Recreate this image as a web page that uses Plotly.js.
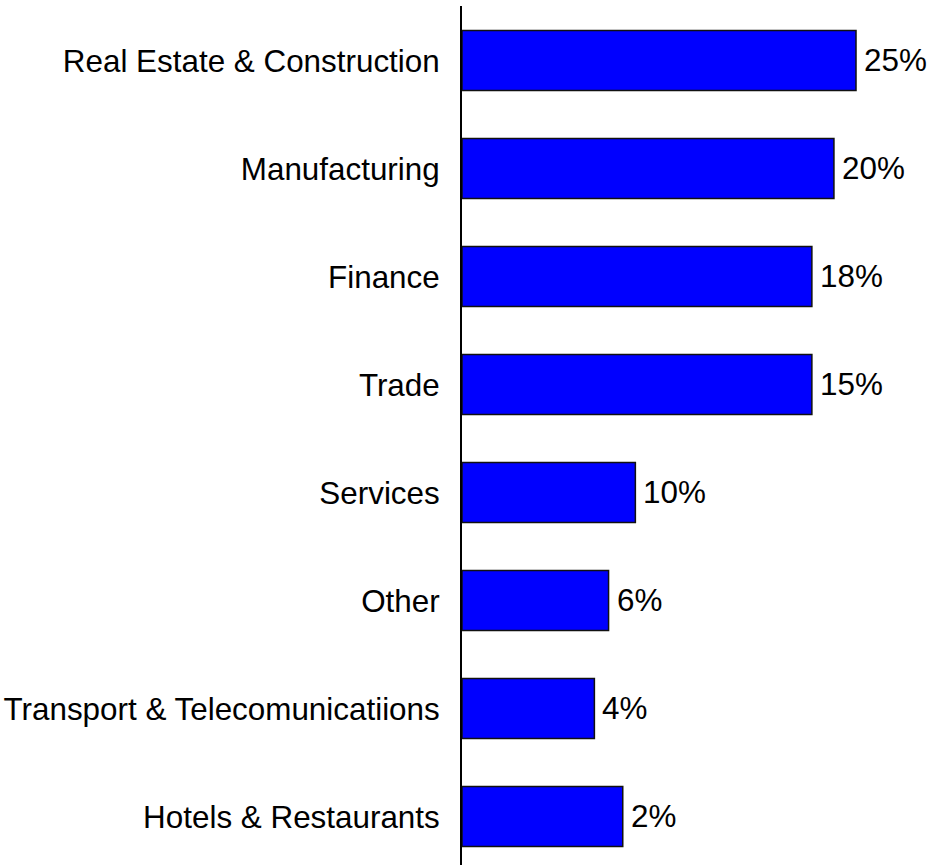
<!DOCTYPE html>
<html>
<head>
<meta charset="utf-8">
<script src="https://cdn.plot.ly/plotly-3.0.1.min.js"></script>
<style>
  html, body { margin: 0; padding: 0; background: #ffffff; }
  #chart { width: 946px; height: 865px; }
</style>
</head>
<body>
<div id="chart"></div>
<script>
// Categories, top to bottom
var categories = [
  "Real Estate & Construction",
  "Manufacturing",
  "Finance",
  "Trade",
  "Services",
  "Other",
  "Transport & Telecomunicatiions",
  "Hotels & Restaurants"
];
// Bar lengths as drawn in the picture (estimated, % units)
var barValues = [25.0, 23.6, 22.2, 22.2, 11.0, 9.3, 8.4, 10.2];
// Value labels printed next to the bars
var valueLabels = ["25%", "20%", "18%", "15%", "10%", "6%", "4%", "2%"];

var FONT = "Liberation Sans, Arial, sans-serif";

var trace = {
  type: "bar",
  orientation: "h",
  x: barValues,
  y: categories,
  width: 0.556,
  marker: { color: "#0000FF", line: { color: "#111111", width: 1.5 } },
  hoverinfo: "none"
};

var annotations = categories.map(function (c, i) {
  return {
    x: barValues[i], y: c, xref: "x", yref: "y",
    text: valueLabels[i], showarrow: false,
    xanchor: "left", yanchor: "middle", xshift: 6,
    font: { family: FONT, size: 31.4, color: "#000000" }
  };
});

var layout = {
  width: 946, height: 865,
  margin: { l: 462, r: 0, t: 6, b: 0, pad: 0 },
  paper_bgcolor: "#ffffff", plot_bgcolor: "#ffffff",
  showlegend: false,
  font: { family: FONT, size: 31.4, color: "#000000" },
  xaxis: {
    range: [0, 30.71], showgrid: false, zeroline: false, showline: false,
    showticklabels: false, ticks: "", fixedrange: true
  },
  yaxis: {
    type: "category",
    categoryorder: "array", categoryarray: categories,
    range: [7.449, -0.505],
    showgrid: false, zeroline: false,
    showline: true, linecolor: "#000000", linewidth: 2,
    ticks: "", ticklabelstandoff: 14,
    tickfont: { family: FONT, size: 31.4, color: "#000000" },
    fixedrange: true
  },
  annotations: annotations
};

Plotly.newPlot("chart", [trace], layout, { displayModeBar: false, staticPlot: true });
</script>
</body>
</html>
